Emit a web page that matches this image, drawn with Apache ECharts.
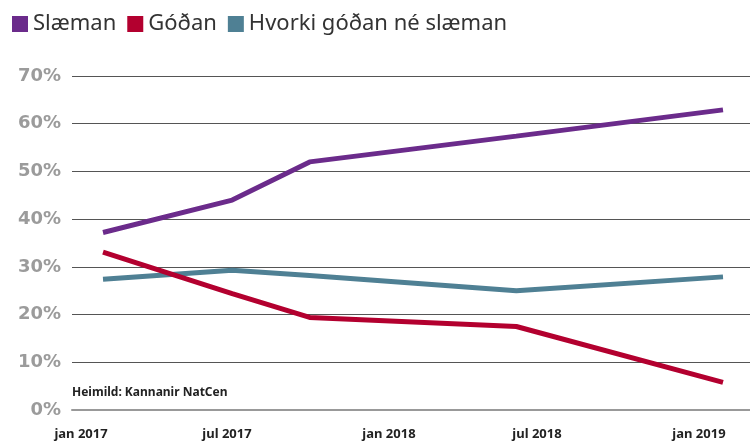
<!DOCTYPE html>
<html>
<head>
<meta charset="utf-8">
<script src="https://cdn.jsdelivr.net/npm/echarts@6/dist/echarts.min.js"></script>
<style>
  html, body { margin: 0; padding: 0; background: #fff; }
  #chart { width: 750px; height: 441px; }
</style>
</head>
<body>
<div id="chart"></div>
<script>
// Survey waves, as months counted from January 2017
const surveyMonths = [0, 5, 8, 16, 24];

// Share of respondents (%) per answer
const slaeman = [37.2, 44.0, 52.0, 57.4, 62.9];
const godan = [33.1, 24.4, 19.4, 17.5, 5.8];
const hvorki = [27.4, 29.3, 28.2, 25.0, 27.9];

// Date labels along the bottom and where they sit (months from January 2017)
const dateLabels = ['jan 2017', 'jul 2017', 'jan 2018', 'jul 2018', 'jan 2019'];
const dateLabelMonths = [-0.85, 4.8, 11.07, 16.8, 23.07];

const seriesNames = ['Slæman', 'Góðan', 'Hvorki góðan né slæman'];
const colors = ['#6b2b8b', '#b3002f', '#4f8094'];

const pair = (vals) => surveyMonths.map((m, i) => [m, vals[i]]);

const chart = echarts.init(document.getElementById('chart'));

chart.setOption({
  animation: false,
  color: colors,
  legend: {
    data: seriesNames,
    left: 7,
    top: 8,
    itemWidth: 16,
    itemHeight: 16,
    itemGap: 11,
    icon: 'rect',
    textStyle: { fontFamily: 'Noto Sans', fontSize: 22, color: '#333' }
  },
  grid: { left: 72, right: 0, top: 76, bottom: 31 },
  xAxis: {
    type: 'value',
    min: -1.2,
    max: 25.045,
    axisLine: { show: true, lineStyle: { color: '#999', width: 2 } },
    axisTick: { show: false },
    splitLine: { show: false },
    axisLabel: {
      customValues: dateLabelMonths,
      formatter: (v) => {
        const i = dateLabelMonths.findIndex((m) => Math.abs(m - v) < 1e-6);
        return i >= 0 ? dateLabels[i] : '';
      },
      margin: 18,
      fontFamily: 'Noto Sans',
      fontWeight: 'bold',
      fontSize: 13,
      color: '#222'
    }
  },
  yAxis: {
    type: 'value',
    min: 0,
    max: 70,
    interval: 10,
    axisLine: { show: false },
    axisTick: { show: false },
    splitLine: { lineStyle: { color: '#555', width: 1 } },
    axisLabel: {
      formatter: '{value}%',
      margin: 11,
      fontFamily: 'DejaVu Sans',
      fontWeight: 'bold',
      fontSize: 18,
      color: '#9b9b9b'
    }
  },
  graphic: [{
    type: 'text',
    left: 72,
    top: 387,
    style: {
      text: 'Heimild: Kannanir NatCen',
      fontFamily: 'Noto Sans',
      fontWeight: 'bold',
      fontSize: 12,
      fill: '#222'
    }
  }],
  series: [
    { name: seriesNames[0], type: 'line', data: pair(slaeman), z: 3 },
    { name: seriesNames[1], type: 'line', data: pair(godan), z: 4 },
    { name: seriesNames[2], type: 'line', data: pair(hvorki), z: 2 }
  ].map((s) => Object.assign(s, {
    symbol: 'none',
    lineStyle: { width: 5 },
    emphasis: { disabled: true }
  }))
});
</script>
</body>
</html>
